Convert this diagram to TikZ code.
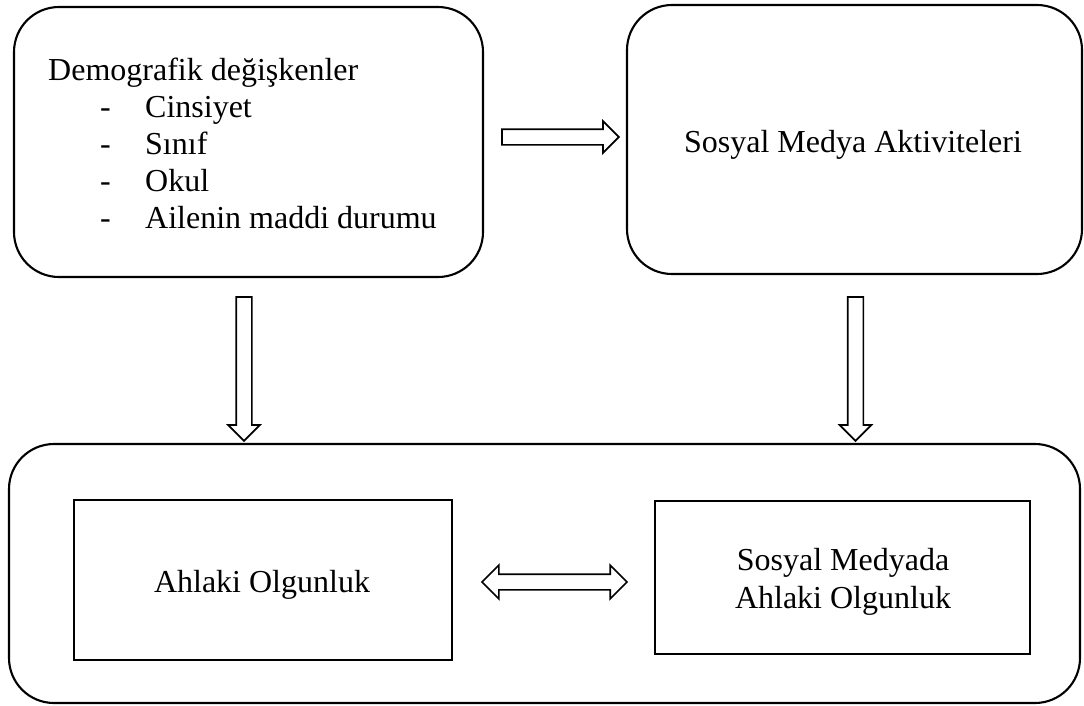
\documentclass[tikz,border=0pt]{standalone}
\usepackage{fontspec}
\setmainfont{Liberation Serif}
\usepackage{tikz}
\usetikzlibrary{shapes.arrows}

\begin{document}
\begin{tikzpicture}[x=1pt,y=-1pt,
  kutu/.style={draw,line width=2.1pt,rounded corners=45pt,inner sep=0pt},
  cerceve/.style={draw,line width=2.1pt,inner sep=0pt},
  yazi/.style={inner sep=0pt,font=\fontsize{32}{37}\selectfont},
  blokok/.style={draw,line width=1.7pt,single arrow,single arrow head extend=8pt,inner sep=7pt},
  ciftok/.style={draw,line width=1.7pt,double arrow,double arrow head extend=9pt,inner sep=7pt}]
 \useasboundingbox (0,0) rectangle (1084,705);
 % ust kutular
 \node[kutu,minimum width=469pt,minimum height=270pt] (demo) at (248.5,142) {};
 \node[yazi,anchor=base west] (demoyazi) at (48,80) {\begin{tabular}[t]{@{}l@{}}
  Demografik değişkenler\\
  \hspace*{52pt}\makebox[45pt][l]{-}Cinsiyet\\
  \hspace*{52pt}\makebox[45pt][l]{-}Sınıf\\
  \hspace*{52pt}\makebox[45pt][l]{-}Okul\\
  \hspace*{52pt}\makebox[45pt][l]{-}Ailenin maddi durumu
 \end{tabular}};
 \node[kutu,minimum width=455pt,minimum height=269pt] (aktivite) at (854.5,139.5) {};
 \node[yazi,anchor=base] (aktiviteyazi) at (853,152) {Sosyal Medya Aktiviteleri};
 % alt kutu
 \node[kutu,minimum width=1071pt,minimum height=259pt] (alt) at (544.5,573.5) {};
 \node[cerceve,minimum width=378pt,minimum height=160pt] (ahlak) at (263,580) {};
 \node[yazi,anchor=base] (ahlakyazi) at (262,592) {Ahlaki Olgunluk};
 \node[cerceve,minimum width=375pt,minimum height=153pt] (smahlak) at (842.5,577.5) {};
 \node[yazi,anchor=base] (smahlakyazi) at (843,570) {\begin{tabular}[t]{@{}c@{}}Sosyal Medyada\\[1pt]Ahlaki Olgunluk\end{tabular}};
 % oklar
 \node[blokok,minimum height=117pt] (ok1) at (556.5,137) {};
 \node[blokok,minimum height=144pt,shape border rotate=270] (ok2) at (244,365) {};
 \node[blokok,minimum height=144pt,shape border rotate=270] (ok3) at (855.5,365) {};
 \node[ciftok,minimum height=145pt] (ok4) at (554.5,582) {};
\end{tikzpicture}
\end{document}
